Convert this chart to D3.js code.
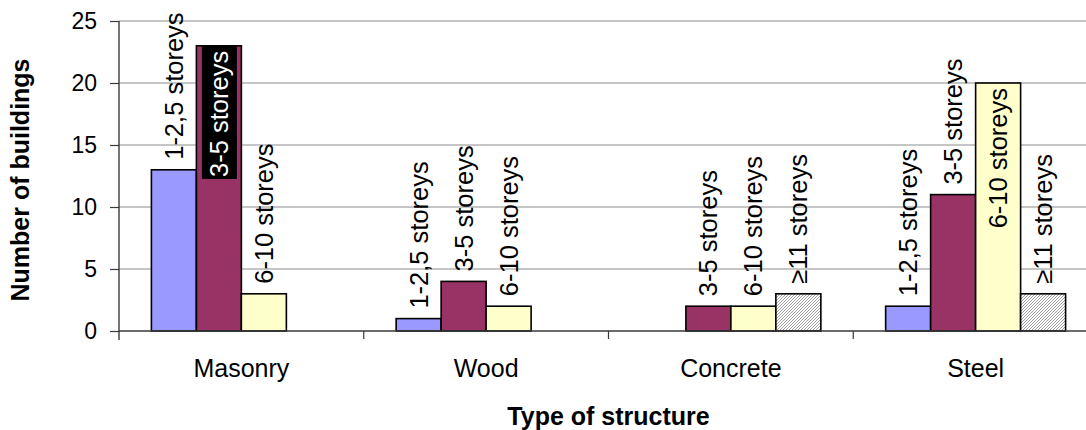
<!DOCTYPE html>
<html>
<head>
<meta charset="utf-8">
<script src="https://cdn.jsdelivr.net/npm/d3@7"></script>
<style>
  html, body { margin: 0; padding: 0; background: #fff; }
  svg { display: block; font-family: "Liberation Sans", Arial, sans-serif; }
</style>
</head>
<body>
<svg id="chart" width="1086" height="430"></svg>
<script>
// Building counts by structure type and storey band
const categories = ["Masonry", "Wood", "Concrete", "Steel"];
const seriesNames = ["1-2,5 storeys", "3-5 storeys", "6-10 storeys", "≥11 storeys"];
const masonry  = [13, 23, 3, null];
const wood     = [1, 4, 2, null];
const concrete = [null, 2, 2, 3];
const steel    = [2, 11, 20, 3];
const yTicks = [0, 5, 10, 15, 20, 25];

const values = [masonry, wood, concrete, steel];
const fills = ["#9999ff", "#993366", "#ffffcc", "url(#hatch)"];
const darkFill = [false, true, false, false];

const svg = d3.select("#chart");
const plot = { left: 119, right: 1098, top: 21, bottom: 331 };

// Fine diagonal hatch for the tallest storey band
const defs = svg.append("defs");
const pat = defs.append("pattern")
  .attr("id", "hatch").attr("patternUnits", "userSpaceOnUse")
  .attr("width", 3).attr("height", 3);
pat.append("rect").attr("width", 3).attr("height", 3).attr("fill", "#ffffff");
pat.append("path").attr("d", "M-1,1 l2,-2 M0,3 l3,-3 M2,4 l2,-2")
  .attr("stroke", "#8a8a8a").attr("stroke-width", 0.8);

const y = d3.scaleLinear().domain([0, 25]).range([plot.bottom, plot.top]);
const x = d3.scaleBand().domain(categories).range([plot.left, plot.right]).padding(0);
const xs = d3.scaleBand().domain(d3.range(seriesNames.length))
  .range([0, x.bandwidth()]).paddingInner(0).paddingOuter(0.72);

// Horizontal gridlines
svg.append("g").selectAll("line").data(yTicks.filter(d => d > 0)).join("line")
  .attr("x1", plot.left).attr("x2", plot.right)
  .attr("y1", d => y(d)).attr("y2", d => y(d))
  .attr("stroke", "#8c8c8c").attr("stroke-width", 1);

// Bars
const bars = [];
categories.forEach((c, ci) => {
  values[ci].forEach((v, si) => {
    if (v == null) return;
    bars.push({ c, si, v });
  });
});

svg.append("g").selectAll("rect").data(bars).join("rect")
  .attr("x", d => x(d.c) + xs(d.si))
  .attr("y", d => y(d.v))
  .attr("width", xs.bandwidth())
  .attr("height", d => y(0) - y(d.v))
  .attr("fill", d => fills[d.si])
  .attr("stroke", "#000").attr("stroke-width", 1.6);

// Y axis
const yAxis = svg.append("g").attr("transform", `translate(${plot.left},0)`)
  .call(d3.axisLeft(y).tickValues(yTicks).tickSize(9).tickPadding(13).tickSizeOuter(0));
yAxis.select(".domain").remove();
yAxis.append("line").attr("x1", 0).attr("x2", 0).attr("y1", plot.top).attr("y2", plot.bottom + 9)
  .attr("stroke", "#3a3a3a").attr("stroke-width", 1.4);
yAxis.selectAll(".tick line").attr("stroke", "#3a3a3a").attr("stroke-width", 1.2);
yAxis.selectAll(".tick text").attr("font-size", 23).attr("fill", "#000")
  .attr("font-family", "Liberation Sans, Arial, sans-serif");

// X axis with ticks between categories
const xg = svg.append("g");
xg.append("line").attr("x1", plot.left).attr("x2", plot.right)
  .attr("y1", plot.bottom).attr("y2", plot.bottom)
  .attr("stroke", "#3a3a3a").attr("stroke-width", 1.4);
const bounds = categories.map(c => x(c)).concat([x(categories[categories.length - 1]) + x.bandwidth()]);
xg.selectAll("line.sep").data(bounds.slice(1)).join("line").attr("class", "sep")
  .attr("x1", d => d).attr("x2", d => d)
  .attr("y1", plot.bottom).attr("y2", plot.bottom + 8)
  .attr("stroke", "#3a3a3a").attr("stroke-width", 1.2);
xg.selectAll("text").data(categories).join("text")
  .attr("x", d => x(d) + x.bandwidth() / 2).attr("y", 377)
  .attr("text-anchor", "middle").attr("font-size", 25).attr("fill", "#000")
  .text(d => d);

// Data labels, rotated; moved inside the bar when they would leave the chart
const lblG = svg.append("g");
bars.forEach(d => {
  const cx = x(d.c) + xs(d.si) + xs.bandwidth() / 2;
  const top = y(d.v);
  const g = lblG.append("g");
  const t = g.append("text")
    .attr("font-size", 25.5).attr("dy", "0.35em")
    .text(seriesNames[d.si]);
  const len = t.node().getComputedTextLength();
  const gap = 10;
  if (top - gap - len >= 0) {
    g.attr("transform", `translate(${cx},${top - gap}) rotate(-90)`);
    t.attr("text-anchor", "start").attr("fill", "#000");
  } else {
    const inset = 5;
    g.attr("transform", `translate(${cx},${top + inset}) rotate(-90)`);
    t.attr("text-anchor", "end");
    if (darkFill[d.si]) {
      g.insert("rect", "text")
        .attr("x", -(len + inset + 2)).attr("y", -17)
        .attr("width", len + inset + 2).attr("height", 35)
        .attr("transform", `translate(${inset},0)`)
        .attr("fill", "#000");
      t.attr("fill", "#fff");
    } else {
      t.attr("fill", "#000");
    }
  }
});

// Axis titles
svg.append("text")
  .attr("transform", `translate(29,${(plot.top + plot.bottom) / 2 + 4}) rotate(-90)`)
  .attr("text-anchor", "middle").attr("font-size", 25).attr("font-weight", "bold")
  .text("Number of buildings");
svg.append("text")
  .attr("x", (plot.left + plot.right) / 2).attr("y", 425)
  .attr("text-anchor", "middle").attr("font-size", 25).attr("font-weight", "bold")
  .text("Type of structure");
</script>
</body>
</html>
